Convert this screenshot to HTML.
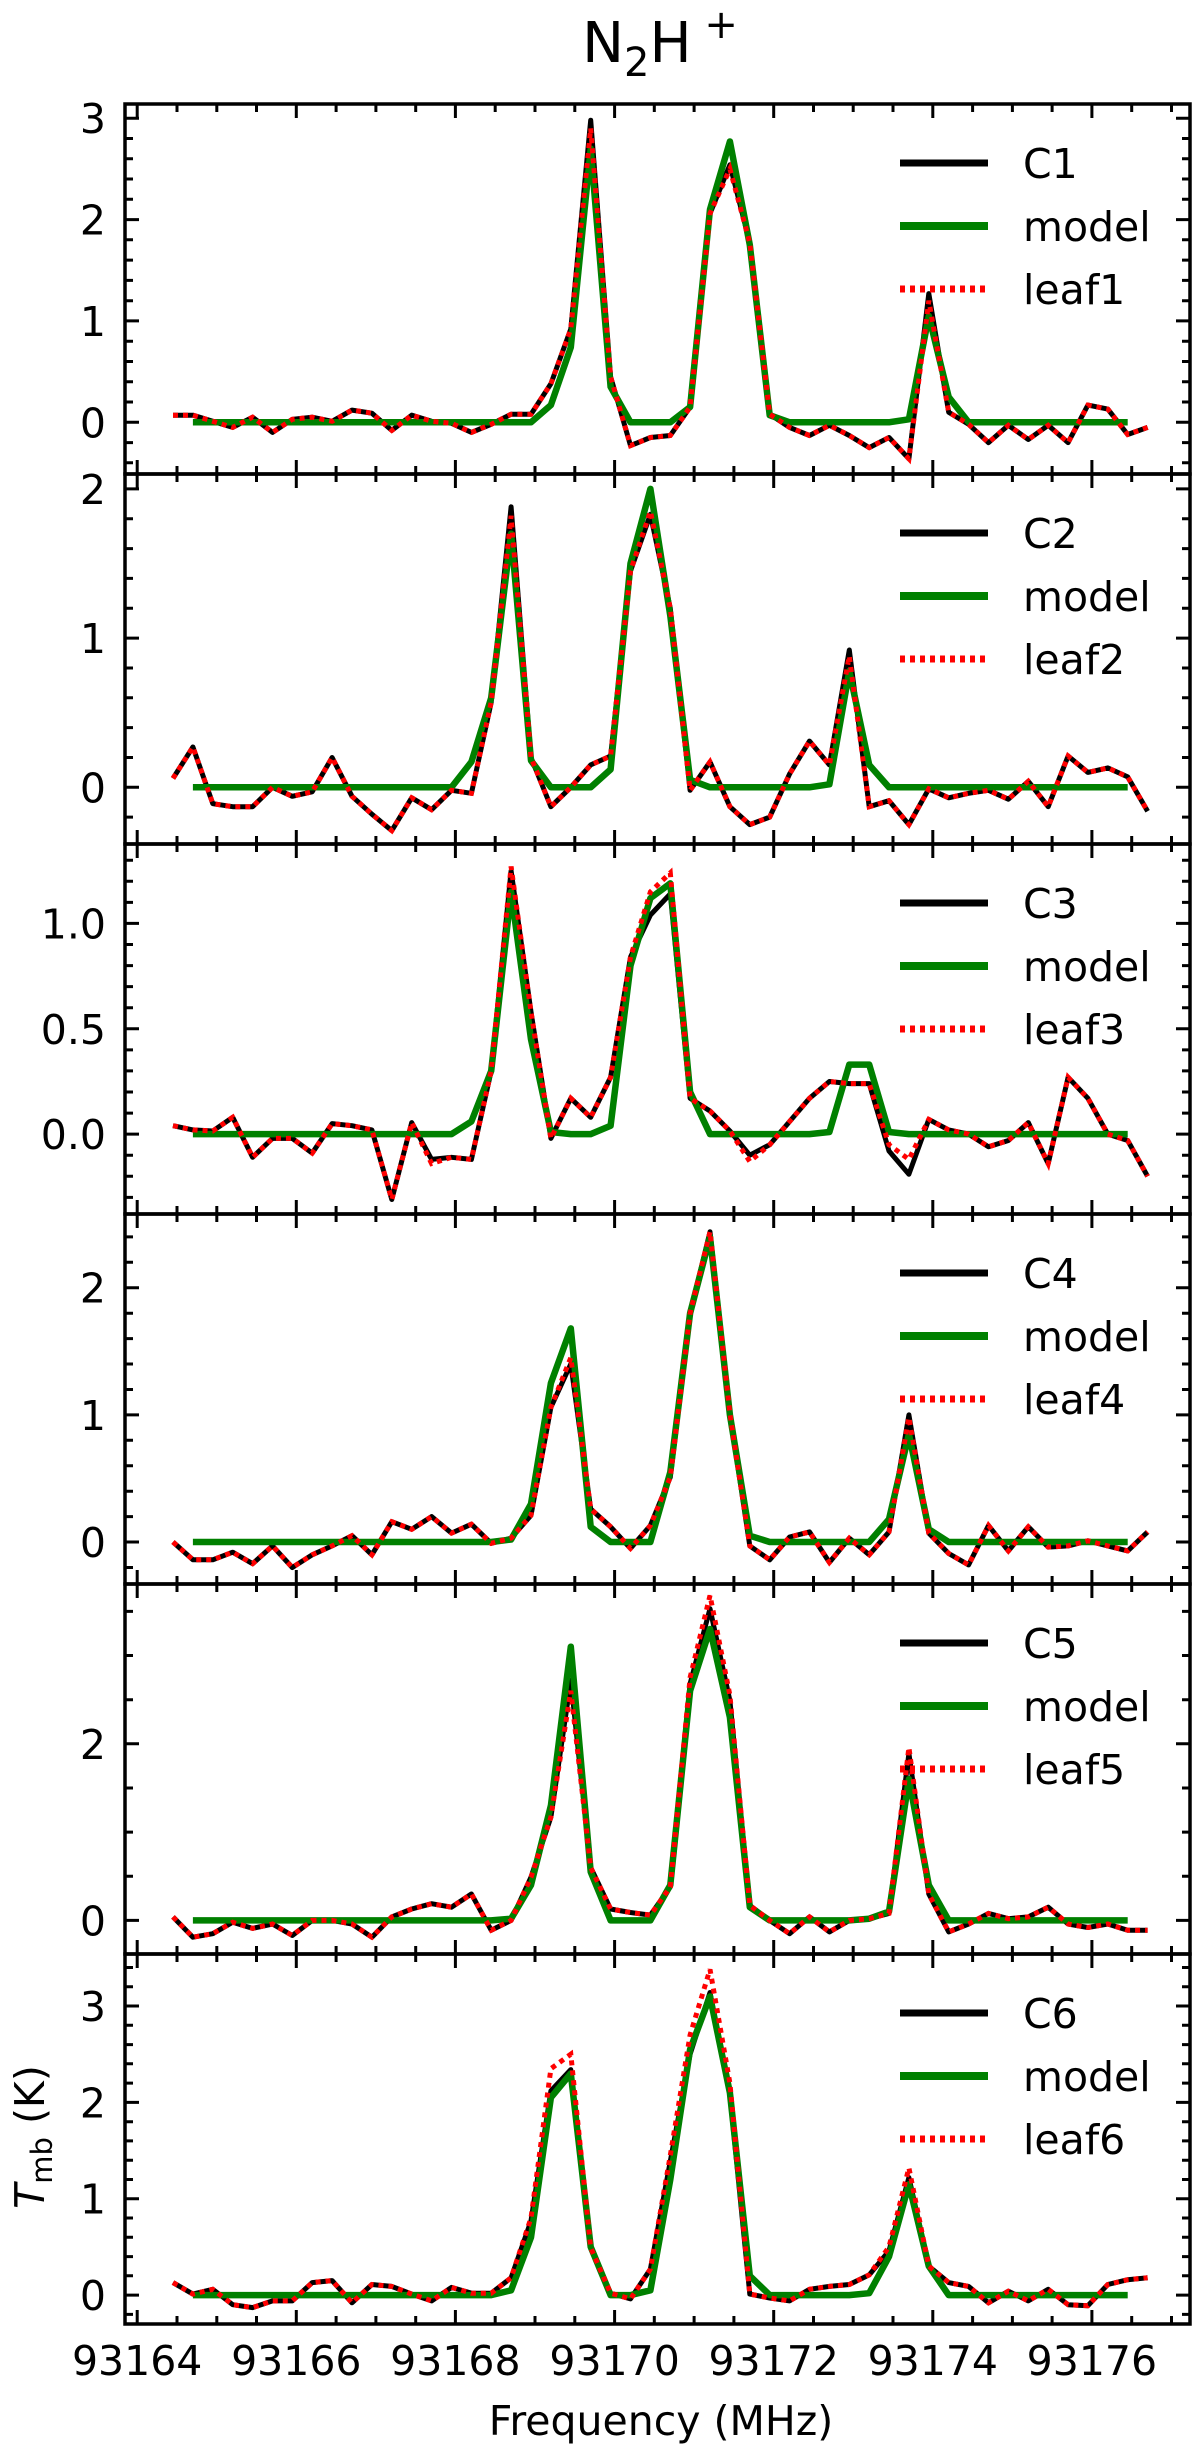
<!DOCTYPE html>
<html><head><meta charset="utf-8"><style>
html,body{margin:0;padding:0;background:#fff;}
svg{display:block;font-family:"DejaVu Sans","Liberation Sans",sans-serif;}
</style></head><body>
<svg id="fig" width="1200" height="2460" viewBox="0 0 1200 2460" xmlns="http://www.w3.org/2000/svg">
<text x="660" y="62" font-size="56" text-anchor="middle">N<tspan font-size="40" dy="14">2</tspan><tspan dy="-14">H</tspan><tspan font-size="40" dy="-24"> +</tspan></text>
<text transform="translate(44,2137) rotate(-90)" font-size="41" text-anchor="middle"><tspan font-style="italic">T</tspan><tspan font-size="29" dy="8">mb</tspan><tspan dy="-8"> (K)</tspan></text>
<text x="661" y="2435" font-size="41" text-anchor="middle">Frequency (MHz)</text>
</svg>
<script>
// channel grid
const f0 = 93164.45;
const df = 0.25;
const xTicks = [93164, 93166, 93168, 93170, 93172, 93174, 93176];
const xTickLabels = ["93164","93166","93168","93170","93172","93174","93176"];
const labels = ["C1","C2","C3","C4","C5","C6"];
const leafLabels = ["leaf1","leaf2","leaf3","leaf4","leaf5","leaf6"];

const C1 = [0.07,0.07,0.01,-0.05,0.05,-0.1,0.03,0.05,0.01,0.12,0.09,-0.08,0.07,0.01,-0.01,-0.1,-0.02,0.08,0.08,0.38,0.92,2.98,0.45,-0.23,-0.15,-0.13,0.15,2.06,2.54,1.77,0.08,-0.05,-0.13,-0.03,-0.13,-0.25,-0.15,-0.36,1.27,0.1,-0.02,-0.2,-0.03,-0.17,-0.03,-0.2,0.17,0.13,-0.12,-0.05];
const C2 = [0.06,0.27,-0.11,-0.13,-0.13,0,-0.06,-0.03,0.2,-0.06,-0.18,-0.29,-0.07,-0.15,-0.02,-0.04,0.57,1.88,0.2,-0.13,0,0.15,0.21,1.45,1.83,1.2,-0.02,0.17,-0.13,-0.25,-0.2,0.09,0.31,0.15,0.92,-0.13,-0.09,-0.25,-0.01,-0.07,-0.04,-0.02,-0.08,0.04,-0.13,0.21,0.1,0.13,0.07,-0.16];
const C3 = [0.04,0.02,0.015,0.08,-0.11,-0.02,-0.02,-0.09,0.05,0.04,0.02,-0.31,0.055,-0.12,-0.11,-0.12,0.3,1.25,0.58,-0.02,0.17,0.08,0.27,0.84,1.04,1.14,0.17,0.11,0.015,-0.1,-0.05,0.06,0.17,0.25,0.24,0.24,-0.08,-0.19,0.07,0.02,0,-0.06,-0.03,0.055,-0.14,0.27,0.17,0,-0.03,-0.2];
const C4 = [0,-0.14,-0.14,-0.08,-0.17,-0.03,-0.2,-0.1,-0.03,0.05,-0.1,0.16,0.1,0.2,0.07,0.14,-0.01,0.03,0.21,1.06,1.4,0.26,0.12,-0.05,0.13,0.51,1.8,2.44,1.01,-0.03,-0.14,0.04,0.08,-0.16,0.03,-0.1,0.08,1.0,0.07,-0.09,-0.18,0.13,-0.07,0.12,-0.04,-0.03,0.01,-0.03,-0.07,0.08];
const C5 = [0.04,-0.19,-0.15,-0.02,-0.09,-0.04,-0.17,0,0,-0.04,-0.19,0.04,0.13,0.19,0.15,0.3,-0.11,0,0.49,1.17,2.72,0.6,0.13,0.09,0.06,0.38,2.68,3.53,2.49,0.17,0,-0.15,0.04,-0.13,0,0.02,0.08,1.89,0.3,-0.13,-0.04,0.08,0.02,0.04,0.15,-0.04,-0.08,-0.04,-0.11,-0.11];
const C6 = [0.13,0.01,0.06,-0.1,-0.13,-0.06,-0.06,0.13,0.15,-0.08,0.11,0.09,0.01,-0.06,0.08,0.02,0.02,0.18,0.77,2.12,2.34,0.49,0.02,-0.04,0.27,1.39,2.5,3.14,2.08,0.01,-0.03,-0.06,0.06,0.09,0.11,0.21,0.46,1.22,0.3,0.13,0.09,-0.08,0.04,-0.06,0.06,-0.1,-0.11,0.11,0.16,0.18];

const leaf1 = [0.07,0.07,0.01,-0.05,0.05,-0.1,0.03,0.05,0.01,0.12,0.09,-0.08,0.07,0.01,-0.01,-0.1,-0.02,0.08,0.08,0.38,0.92,2.9,0.45,-0.23,-0.15,-0.13,0.15,2.06,2.5,1.77,0.08,-0.05,-0.13,-0.03,-0.13,-0.25,-0.15,-0.36,1.2,0.1,-0.02,-0.2,-0.03,-0.17,-0.03,-0.2,0.17,0.13,-0.12,-0.05];
const leaf2 = [0.06,0.27,-0.11,-0.13,-0.13,0,-0.06,-0.03,0.2,-0.06,-0.18,-0.29,-0.07,-0.15,-0.02,-0.04,0.57,1.82,0.2,-0.13,0,0.15,0.21,1.45,1.85,1.2,-0.02,0.17,-0.13,-0.25,-0.2,0.09,0.31,0.15,0.88,-0.13,-0.09,-0.25,-0.01,-0.07,-0.04,-0.02,-0.08,0.04,-0.13,0.21,0.1,0.13,0.07,-0.16];
const leaf3 = [0.04,0.02,0.015,0.08,-0.11,-0.02,-0.02,-0.09,0.05,0.04,0.02,-0.31,0.055,-0.14,-0.11,-0.12,0.3,1.27,0.58,-0.02,0.17,0.08,0.27,0.84,1.15,1.24,0.17,0.11,0.015,-0.13,-0.05,0.06,0.17,0.25,0.24,0.24,-0.05,-0.12,0.07,0.02,0,-0.06,-0.03,0.055,-0.14,0.27,0.17,0,-0.03,-0.2];
const leaf4 = [0,-0.14,-0.14,-0.08,-0.17,-0.03,-0.2,-0.1,-0.03,0.05,-0.1,0.16,0.1,0.2,0.07,0.14,-0.01,0.03,0.21,1.06,1.45,0.26,0.12,-0.05,0.13,0.51,1.8,2.44,1.01,-0.03,-0.14,0.04,0.08,-0.16,0.03,-0.1,0.08,0.98,0.07,-0.09,-0.18,0.13,-0.07,0.12,-0.04,-0.03,0.01,-0.03,-0.07,0.08];
const leaf5 = [0.04,-0.19,-0.15,-0.02,-0.09,-0.04,-0.17,0,0,-0.04,-0.19,0.04,0.13,0.19,0.15,0.3,-0.11,0,0.49,1.17,2.6,0.6,0.13,0.09,0.06,0.38,2.75,3.68,2.55,0.17,0,-0.15,0.04,-0.13,0,0.02,0.08,1.96,0.3,-0.13,-0.04,0.08,0.02,0.04,0.15,-0.04,-0.08,-0.04,-0.11,-0.11];
const leaf6 = [0.13,0.01,0.06,-0.1,-0.13,-0.06,-0.06,0.13,0.15,-0.08,0.11,0.09,0.01,-0.06,0.08,0.02,0.02,0.18,0.8,2.35,2.5,0.49,0.02,-0.04,0.27,1.45,2.7,3.38,2.2,0.01,-0.03,-0.06,0.06,0.09,0.11,0.21,0.5,1.32,0.3,0.13,0.09,-0.08,0.04,-0.06,0.06,-0.1,-0.11,0.11,0.16,0.18];

// model spans channels 1..48
const model1 = [0,0,0,0,0,0,0,0,0,0,0,0,0,0,0,0,0,0,0.17,0.74,2.7,0.35,0,0,0,0.15,2.1,2.77,1.75,0.07,0,0,0,0,0,0,0.03,1.05,0.25,0,0,0,0,0,0,0,0,0];
const model2 = [0,0,0,0,0,0,0,0,0,0,0,0,0,0,0.17,0.6,1.7,0.18,0,0,0,0.12,1.5,2.0,1.15,0.05,0,0,0,0,0,0,0.02,0.78,0.15,0,0,0,0,0,0,0,0,0,0,0,0,0];
const model3 = [0,0,0,0,0,0,0,0,0,0,0,0,0,0,0.06,0.3,1.15,0.45,0.01,0,0,0.04,0.8,1.12,1.19,0.2,0,0,0,0,0,0,0.01,0.33,0.33,0.01,0,0,0,0,0,0,0,0,0,0,0,0];
const model4 = [0,0,0,0,0,0,0,0,0,0,0,0,0,0,0,0,0.02,0.3,1.25,1.68,0.12,0,0,0,0.55,1.8,2.4,1.0,0.05,0,0,0,0,0,0,0.18,0.85,0.1,0,0,0,0,0,0,0,0,0,0];
const model5 = [0,0,0,0,0,0,0,0,0,0,0,0,0,0,0,0,0.02,0.4,1.3,3.1,0.55,0,0,0,0.4,2.6,3.3,2.3,0.15,0,0,0,0,0,0.02,0.1,1.6,0.4,0,0,0,0,0,0,0,0,0,0];
const model6 = [0,0,0,0,0,0,0,0,0,0,0,0,0,0,0,0,0.05,0.6,2.05,2.3,0.5,0,0,0.05,1.2,2.55,3.1,2.1,0.2,0,0,0,0,0,0.02,0.4,1.15,0.3,0,0,0,0,0,0,0,0,0,0];

const yMajor1 = [0,1,2,3], yMajor2 = [0,1,2], yMajor3 = [0,0.5,1.0], yMajor4 = [0,1,2], yMajor5 = [0,2], yMajor6 = [0,1,2,3];
const yLabels3 = ["0.0","0.5","1.0"];

const panels = [
  {c:C1,l:leaf1,m:model1,lo:-0.51,hi:3.14,maj:yMajor1,minStep:0.2,lab:null},
  {c:C2,l:leaf2,m:model2,lo:-0.38,hi:2.10,maj:yMajor2,minStep:0.2,lab:null},
  {c:C3,l:leaf3,m:model3,lo:-0.379,hi:1.377,maj:yMajor3,minStep:0.1,lab:yLabels3},
  {c:C4,l:leaf4,m:model4,lo:-0.33,hi:2.58,maj:yMajor4,minStep:0.2,lab:null},
  {c:C5,l:leaf5,m:model5,lo:-0.38,hi:3.81,maj:yMajor5,minStep:0.5,lab:null},
  {c:C6,l:leaf6,m:model6,lo:-0.30,hi:3.54,maj:yMajor6,minStep:0.2,lab:null}
];

const NS = "http://www.w3.org/2000/svg";
const svg = document.getElementById("fig");
const L = 125, R = 1190, TOP = 104, PH = 370;
const xScale = f => 137.2 + (f - 93164) * 79.56;
function mk(tag, attrs, parent){ const e=document.createElementNS(NS,tag); for(const k in attrs) e.setAttribute(k,attrs[k]); (parent||svg).appendChild(e); return e; }

panels.forEach((p,i)=>{
  const t = TOP + i*PH, b = t + PH;
  const yScale = v => b - (v - p.lo) / (p.hi - p.lo) * PH;
  const g = mk("g",{});
  
  
  const clipId = "clip"+i;
  const cp = mk("clipPath",{id:clipId}, g); mk("rect",{x:L,y:t,width:R-L,height:PH},cp);
  const ptsC = p.c.map((v,k)=>xScale(f0+k*df).toFixed(1)+","+yScale(v).toFixed(1)).join(" ");
  const ptsM = p.m.map((v,k)=>xScale(f0+(k+1)*df).toFixed(1)+","+yScale(v).toFixed(1)).join(" ");
  const ptsL = p.l.map((v,k)=>xScale(f0+k*df).toFixed(1)+","+yScale(v).toFixed(1)).join(" ");
  const lc = mk("polyline",{points:ptsC,fill:"none",stroke:"#000","stroke-width":5,"stroke-linejoin":"round","clip-path":"url(#"+clipId+")"},g);
  
  
  const lm = mk("polyline",{points:ptsM,fill:"none",stroke:"#008000","stroke-width":6.5,"stroke-linejoin":"round","clip-path":"url(#"+clipId+")"},g);
  
  
  const ll = mk("polyline",{points:ptsL,fill:"none",stroke:"#ff0000","stroke-width":5,"stroke-dasharray":"5 5","clip-path":"url(#"+clipId+")"},g);
  
  
  let d = "";
  for(let f=93164; f<=93177.01; f+=0.5){
    const x = xScale(f); if(x<L||x>R) continue;
    const len = (Math.abs(f/2 - Math.round(f/2))<1e-6) ? 14 : 8;
    d += `M${x.toFixed(1)},${b}v${-len}M${x.toFixed(1)},${t}v${len}`;
  }
  const vStart = Math.ceil(p.lo/p.minStep)*p.minStep;
  for(let v=vStart; v<=p.hi+1e-9; v+=p.minStep){
    const y = yScale(v);
    const isMaj = p.maj.some(m=>Math.abs(m-v)<1e-6);
    const len = isMaj?14:8;
    d += `M${L},${y.toFixed(1)}h${len}M${R},${y.toFixed(1)}h${-len}`;
  }
  const tk = mk("path",{d:d,stroke:"#000","stroke-width":3,fill:"none"},g);
  
  
  p.maj.forEach((v,j)=>{
    const tx = mk("text",{x:106,y:(yScale(v)+15).toFixed(1),"font-size":41,"text-anchor":"end"},g);
    tx.textContent = p.lab ? p.lab[j] : String(v);
    
    
  });
  const fr = mk("rect",{x:L,y:t,width:R-L,height:PH,fill:"none",stroke:"#000","stroke-width":3.5},g);
  
  
  const lg = mk("g",{},g);
  
  
  const rows = [[labels[i],"#000",7,null],["model","#008000",8,null],[leafLabels[i],"#ff0000",7,"5 5"]];
  rows.forEach((r,j)=>{
    const y = t + 59 + j*63;
    const ln = mk("line",{x1:900,x2:988,y1:y,y2:y,stroke:r[1],"stroke-width":r[2]},lg);
    if(r[3]) ln.setAttribute("stroke-dasharray",r[3]);
    
    
    const tx = mk("text",{x:1023,y:y+15,"font-size":41},lg);
    tx.textContent = r[0];
    
    
  });
  if(i===5){
    xTicks.forEach((f,j)=>{
      const tx = mk("text",{x:xScale(f).toFixed(1),y:2375,"font-size":41,"text-anchor":"middle"},g);
      tx.textContent = xTickLabels[j];
      
      
    });
  }
});
</script>
</body></html>
